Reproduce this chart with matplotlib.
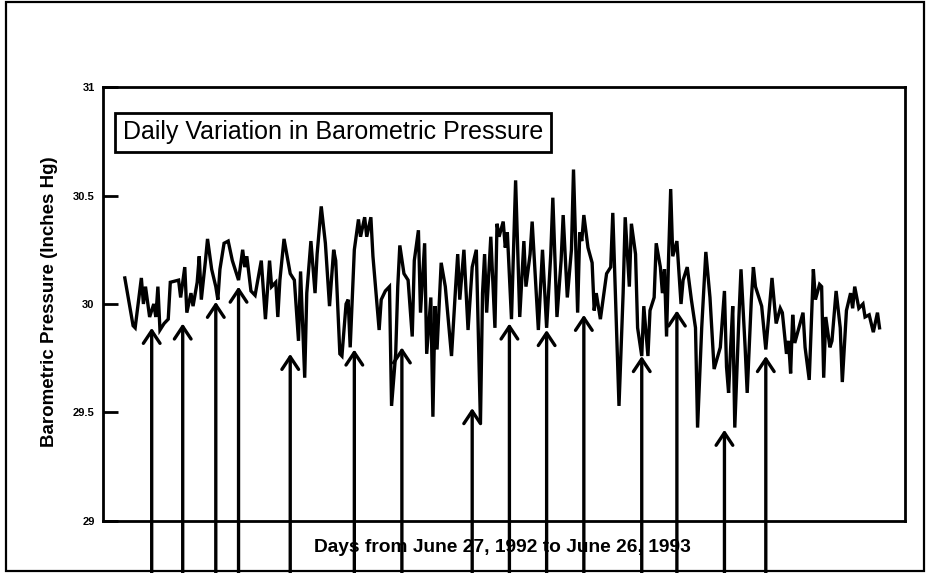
import matplotlib
matplotlib.use('Agg')
import matplotlib.pyplot as plt
from matplotlib.patches import Rectangle

plt.rcParams['font.family'] = ['Liberation Sans', 'DejaVu Sans']

# daily barometric pressure (day, inches Hg)
days = [0, 4, 5, 8, 9, 10, 12, 14, 15, 16, 17, 19, 21, 22, 26, 27, 29, 30, 32, 33,
        35, 36, 37, 39, 40, 42, 44, 45, 46, 48, 50, 52, 55, 57, 58, 59, 61, 63, 66, 68,
        70, 71, 73, 74, 75, 77, 80, 82, 84, 85, 87, 88, 90, 92, 93, 95, 97, 99, 101, 102,
        104, 105, 107, 108, 109, 111, 113, 114, 116, 117, 119, 120, 123, 124, 126, 128, 129, 131, 132, 133,
        135, 137, 139, 140, 142, 143, 145, 146, 148, 149, 150, 151, 153, 155, 158, 160, 161, 162, 164, 166,
        168, 170, 172, 173, 174, 175, 177, 179, 180, 181, 183, 184, 185, 187, 189, 191, 193, 194, 196, 197,
        200, 202, 204, 206, 207, 209, 211, 212, 214, 216, 217, 219, 220, 221, 222, 224, 226, 227, 228, 230,
        233, 235, 236, 237, 239, 241, 242, 244, 245, 247, 248, 250, 251, 253, 254, 256, 257, 259, 260, 261,
        262, 263, 264, 265, 267, 269, 270, 272, 274, 276, 277, 279, 281, 283, 285, 288, 290, 291, 292, 293,
        294, 295, 297, 298, 300, 301, 303, 304, 305, 308, 310, 313, 315, 317, 318, 320, 321, 322, 323, 324,
        326, 328, 329, 331, 333, 334, 336, 337, 338, 339, 341, 342, 344, 346, 347, 349, 351, 352, 353, 355,
        357, 358, 360, 362, 364, 365]
pressure = [30.12, 29.90, 29.89, 30.12, 30.00, 30.08, 29.94, 30.00, 29.94, 30.08, 29.88, 29.91, 29.93, 30.10, 30.11, 30.03, 30.17, 29.96, 30.05, 29.99,
            30.10, 30.22, 30.02, 30.20, 30.30, 30.16, 30.08, 30.02, 30.16, 30.28, 30.29, 30.20, 30.11, 30.25, 30.17, 30.22, 30.06, 30.04, 30.20, 29.93,
            30.20, 30.08, 30.10, 29.94, 30.11, 30.30, 30.14, 30.11, 29.83, 30.15, 29.66, 30.05, 30.29, 30.05, 30.23, 30.45, 30.28, 29.99, 30.25, 30.20,
            29.77, 29.76, 30.00, 30.02, 29.80, 30.25, 30.39, 30.31, 30.40, 30.31, 30.40, 30.22, 29.88, 30.02, 30.06, 30.08, 29.53, 29.77, 30.08, 30.27,
            30.14, 30.11, 29.85, 30.20, 30.34, 29.96, 30.28, 29.77, 30.03, 29.48, 29.99, 29.79, 30.19, 30.08, 29.76, 30.08, 30.23, 30.02, 30.25, 29.88,
            30.17, 30.25, 29.45, 30.05, 30.23, 29.96, 30.31, 29.89, 30.37, 30.31, 30.38, 30.26, 30.33, 29.93, 30.57, 29.94, 30.29, 30.08, 30.23, 30.38,
            29.88, 30.25, 29.89, 30.23, 30.49, 29.94, 30.20, 30.41, 30.03, 30.25, 30.62, 29.96, 30.33, 30.29, 30.41, 30.26, 30.19, 29.97, 30.05, 29.93,
            30.14, 30.17, 30.42, 30.12, 29.53, 30.05, 30.40, 30.08, 30.37, 30.23, 29.89, 29.76, 29.99, 29.76, 29.97, 30.03, 30.28, 30.17, 30.05, 30.16,
            29.85, 30.22, 30.53, 30.22, 30.29, 30.00, 30.11, 30.17, 30.02, 29.89, 29.43, 29.89, 30.24, 30.03, 29.70, 29.80, 30.06, 29.71, 29.59, 29.80,
            29.99, 29.43, 29.94, 30.16, 29.80, 29.59, 30.02, 30.17, 30.08, 29.99, 29.79, 30.12, 29.91, 29.98, 29.96, 29.77, 29.83, 29.68, 29.95, 29.82,
            29.89, 29.96, 29.80, 29.65, 30.16, 30.02, 30.09, 30.08, 29.66, 29.94, 29.80, 29.83, 30.06, 29.89, 29.64, 29.97, 30.05, 29.98, 30.08, 29.98,
            30.00, 29.94, 29.95, 29.87, 29.96, 29.89]

# marked low-pressure days (arrows)
arrow_days = [13, 28, 44, 55, 80, 111, 134, 168, 186, 204, 222, 250, 267, 290, 310]
arrow_tips = [29.89, 29.91, 30.01, 30.08, 29.77, 29.79, 29.80, 29.52, 29.91, 29.88,
              29.95, 29.76, 29.97, 29.42, 29.76]

yticks = [29, 29.5, 30, 30.5, 31]
ytick_labels = ['29', '29.5', '30', '30.5', '31']

fig = plt.figure(figsize=(9.27, 5.73), dpi=100)
ax = fig.add_axes([0.111, 0.091, 0.865, 0.757])

ax.plot(days, pressure, color='black', lw=2.4, solid_joinstyle='miter')
ax.set_xlim(-10.6, 377.2)
ax.set_ylim(29, 31)
ax.set_xticks([])
ax.set_yticks(yticks)
ax.set_yticklabels(ytick_labels, fontsize=8, fontweight='bold')
ax.tick_params(axis='y', direction='in', length=11, width=2, pad=6)
for s in ax.spines.values():
    s.set_linewidth(2.0)

ax.text(0.025, 0.896, 'Daily Variation in Barometric Pressure', transform=ax.transAxes,
        fontsize=18, va='center', ha='left',
        bbox=dict(boxstyle='square,pad=0.3', fc='white', ec='black', lw=2))

# axis titles, drawn as axes children so the arrows go over them
ax.text(502 / 927, 1 - 547 / 573, 'Days from June 27, 1992 to June 26, 1993',
        transform=fig.transFigure, ha='center', va='center', fontsize=13.8, fontweight='bold')
ax.text(50 / 927, 1 - 302 / 573, 'Barometric Pressure (Inches Hg)', rotation=90,
        transform=fig.transFigure, ha='center', va='center', fontsize=13.5, fontweight='bold')

for d, v in zip(arrow_days, arrow_tips):
    ax.annotate('', xy=(d, v), xytext=(d, 0), textcoords=('data', 'figure fraction'),
                annotation_clip=False,
                arrowprops=dict(arrowstyle='->,head_length=0.45,head_width=0.3',
                                mutation_scale=20, lw=2.4, color='black',
                                shrinkA=0, shrinkB=0))

# outer frame round the whole figure
fig.patches.append(Rectangle((0.007, 0.003), 0.99, 0.994, transform=fig.transFigure,
                             fill=False, ec='black', lw=1.6))

fig.savefig('out.png', dpi=100)
